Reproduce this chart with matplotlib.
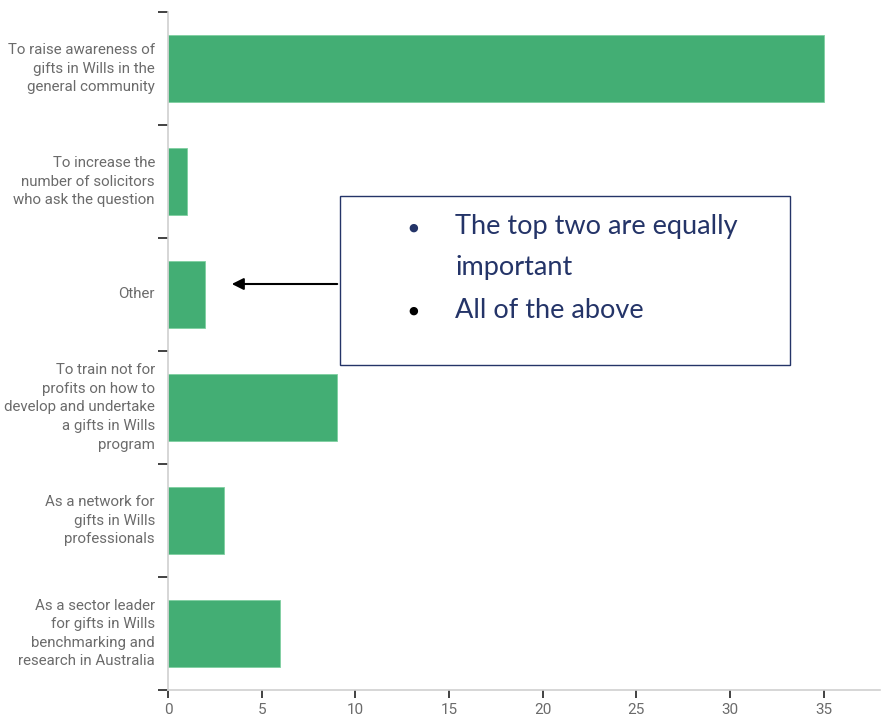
import matplotlib
matplotlib.use("Agg")
import matplotlib.pyplot as plt
from matplotlib.patches import FancyArrowPatch

categories = [
    "To raise awareness of\ngifts in Wills in the\ngeneral community",
    "To increase the\nnumber of solicitors\nwho ask the question",
    "Other",
    "To train not for\nprofits on how to\ndevelop and undertake\na gifts in Wills\nprogram",
    "As a network for\ngifts in Wills\nprofessionals",
    "As a sector leader\nfor gifts in Wills\nbenchmarking and\nresearch in Australia",
]
values = [35, 1, 2, 9, 3, 6]
x_ticks = [0, 5, 10, 15, 20, 25, 30, 35]
note_lines = ["The top two are equally", "important", "All of the above"]

bar_color = "#43ae74"
label_color = "#6b6b6b"
spine_color = "#d0d0d0"
navy = "#243468"

W, H = 882, 716
fig = plt.figure(figsize=(W / 100, H / 100), dpi=100)
ax = fig.add_axes([168 / W, (H - 690) / H, (880 - 168) / W, (690 - 12) / H])

n = len(categories)
pos = list(range(n))
ax.barh(pos, values, height=0.6, color=bar_color, edgecolor="#7fd0a0", linewidth=0.6)
ax.set_ylim(n - 0.5, -0.5)
ax.set_xlim(0, 38)

label_font = ["Roboto", "DejaVu Sans"]
# category labels centred on bars, separator ticks between bars
ax.set_yticks([p - 0.5 for p in pos] + [n - 0.5])
ax.set_yticklabels([])
ax.tick_params(axis="y", length=7, width=1.3, color="#333333", direction="out")
for p, c in zip(pos, categories):
    ax.text(-0.7, p, c, ha="right", va="center", fontsize=10.8, color=label_color,
            family=label_font, linespacing=1.42, clip_on=False)

ax.set_xticks(x_ticks)
ax.set_xticklabels([str(t) for t in x_ticks], fontsize=11, color=label_color, family=label_font)
ax.tick_params(axis="x", length=6, width=1.3, color="#333333", direction="out", pad=3)

for s in ("top", "right"):
    ax.spines[s].set_visible(False)
for s in ("left", "bottom"):
    ax.spines[s].set_color(spine_color)
    ax.spines[s].set_linewidth(1.2)

# annotation box
bx0, by0, bx1, by1 = 340, 196, 790, 365
box = plt.Rectangle((bx0 / W, 1 - by1 / H), (bx1 - bx0) / W, (by1 - by0) / H,
                    transform=fig.transFigure, facecolor="white", edgecolor=navy,
                    linewidth=1.0, zorder=5)
fig.add_artist(box)
note_font = ["Lato", "DejaVu Sans"]
fig.text(413 / W, 1 - 228 / H, "\u25CF", fontsize=8, color=navy, ha="center", va="center", zorder=6)
fig.text(455 / W, 1 - 227 / H, note_lines[0], fontsize=19.5, color=navy, ha="left",
         va="center", family=note_font, zorder=6)
fig.text(455 / W, 1 - 268 / H, note_lines[1], fontsize=19.5, color=navy, ha="left",
         va="center", family=note_font, zorder=6)
fig.text(413 / W, 1 - 311 / H, "\u25CF", fontsize=8, color="black", ha="center", va="center", zorder=6)
fig.text(455 / W, 1 - 310 / H, note_lines[2], fontsize=19.5, color=navy, ha="left", va="center",
         family=note_font, zorder=6)

arrow = FancyArrowPatch((bx0 / W, 1 - 284 / H), (229 / W, 1 - 284 / H),
                        transform=fig.transFigure, arrowstyle="-|>,head_length=7,head_width=3.5",
                        color="black", linewidth=1.5, zorder=6)
fig.add_artist(arrow)

fig.savefig("out.png", dpi=100)
